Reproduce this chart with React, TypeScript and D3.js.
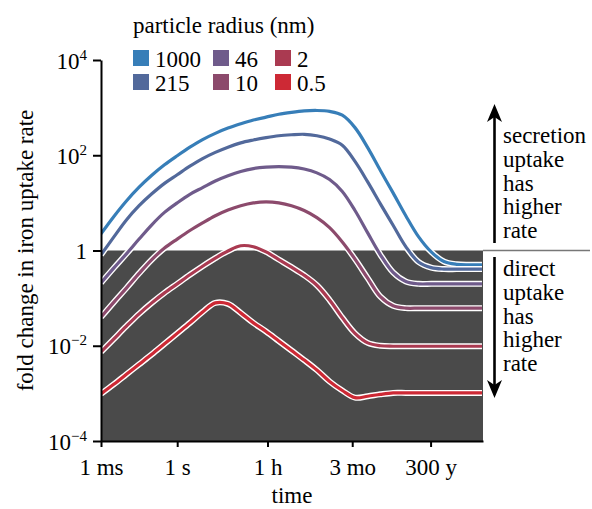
import React, { useEffect, useRef } from "react";
import * as d3 from "d3";

// time grid as log10(seconds), half-decade steps from 1 ms to ~30,000 y
const timeExp = d3.range(-3, 12.01, 0.5);

// log10 of fold change, one array per particle radius (31 points each)
const r1000 = [0.35, 0.71, 1.04, 1.33, 1.58, 1.8, 1.99, 2.17, 2.33, 2.46, 2.57, 2.66, 2.74, 2.8, 2.86, 2.9, 2.93, 2.94, 2.92, 2.84, 2.58, 2.16, 1.68, 1.21, 0.73, 0.29, -0.03, -0.23, -0.29, -0.3, -0.3];
const r215 = [-0.09, 0.28, 0.64, 0.94, 1.19, 1.41, 1.59, 1.77, 1.93, 2.06, 2.17, 2.26, 2.32, 2.37, 2.41, 2.43, 2.44, 2.41, 2.34, 2.21, 1.87, 1.44, 0.98, 0.53, 0.08, -0.24, -0.36, -0.39, -0.39, -0.39, -0.39];
const r46 = [-0.68, -0.37, -0.07, 0.24, 0.54, 0.8, 1.0, 1.18, 1.32, 1.46, 1.57, 1.66, 1.72, 1.75, 1.76, 1.75, 1.71, 1.63, 1.49, 1.24, 0.84, 0.37, -0.09, -0.46, -0.65, -0.7, -0.7, -0.7, -0.7, -0.7, -0.7];
const r10 = [-1.4, -1.09, -0.79, -0.48, -0.19, 0.05, 0.24, 0.42, 0.58, 0.73, 0.85, 0.94, 1.0, 1.02, 1.0, 0.94, 0.84, 0.69, 0.48, 0.18, -0.18, -0.58, -0.97, -1.16, -1.21, -1.21, -1.21, -1.21, -1.21, -1.21, -1.21];
const r2 = [-2.13, -1.86, -1.59, -1.33, -1.1, -0.89, -0.7, -0.51, -0.33, -0.16, -0.01, 0.1, 0.08, -0.03, -0.19, -0.35, -0.52, -0.73, -1.04, -1.41, -1.74, -1.94, -2.0, -2.01, -2.01, -2.01, -2.01, -2.01, -2.01, -2.01, -2.01];
const r05 = [-3.01, -2.81, -2.6, -2.39, -2.18, -1.96, -1.74, -1.52, -1.29, -1.1, -1.12, -1.31, -1.52, -1.7, -1.9, -2.1, -2.3, -2.51, -2.75, -2.94, -3.09, -3.06, -3.02, -2.99, -2.99, -2.99, -2.99, -2.99, -2.99, -2.99, -2.99];

const radii = ["1000", "215", "46", "10", "2", "0.5"];
const seriesValues = [r1000, r215, r46, r10, r2, r05];
const colors = ["#377eb8", "#52699b", "#6f5b8b", "#8c4a6c", "#aa3a51", "#cd2935"];

// x ticks in seconds
const xTickValues = [1e-3, 1, 3600, 90 * 86400, 300 * 365.25 * 86400];
const xTickLabels = ["1 ms", "1 s", "1 h", "3 mo", "300 y"];
const yTickValues = [1e-4, 1e-2, 1, 1e2, 1e4];

const secretionText = ["secretion", "uptake", "has", "higher", "rate"];
const directText = ["direct", "uptake", "has", "higher", "rate"];

const FONT = "'Liberation Serif', 'Times New Roman', serif";

export default function App() {
  const ref = useRef(null);

  useEffect(() => {
    const el = ref.current;
    if (!el) return;
    const svg = d3.select(el);
    svg.selectAll("*").remove();

    const x = d3.scaleLog().domain([1e-3, 10 ** 12.04]).range([101, 483]);
    const y = d3.scaleLog().domain([1e-4, 1e4]).range([441, 60]);

    // shaded "direct uptake" region
    svg
      .append("rect")
      .attr("x", x(1e-3))
      .attr("y", y(1))
      .attr("width", x.range()[1] - x(1e-3))
      .attr("height", y(1e-4) - y(1))
      .attr("fill", "#4a4a4a");

    svg
      .append("line")
      .attr("x1", x.range()[1])
      .attr("x2", 590)
      .attr("y1", y(1))
      .attr("y2", y(1))
      .attr("stroke", "#777")
      .attr("stroke-width", 1.5);

    svg
      .append("clipPath")
      .attr("id", "plotclip")
      .append("rect")
      .attr("x", x.range()[0])
      .attr("y", 0)
      .attr("width", x.range()[1] - x.range()[0])
      .attr("height", y(1e-4));

    const line = d3
      .line()
      .x(d => x(d[0]))
      .y(d => y(d[1]))
      .curve(d3.curveCatmullRom.alpha(0.5));

    const lines = svg.append("g").attr("clip-path", "url(#plotclip)");
    seriesValues.forEach((vals, i) => {
      const pts = vals.map((v, j) => [10 ** timeExp[j], 10 ** v]);
      lines
        .append("path")
        .attr("d", line(pts))
        .attr("fill", "none")
        .attr("stroke", "#fff")
        .attr("stroke-width", 6);
      lines
        .append("path")
        .attr("d", line(pts))
        .attr("fill", "none")
        .attr("stroke", colors[i])
        .attr("stroke-width", 3.2);
    });

    // axes
    const xAxis = svg
      .append("g")
      .attr("transform", "translate(0," + y(1e-4) + ")")
      .call(
        d3
          .axisBottom(x)
          .tickValues(xTickValues)
          .tickFormat((d, i) => xTickLabels[i])
          .tickSize(6)
          .tickSizeOuter(0)
          .tickPadding(12)
      );
    xAxis.selectAll("path, line").attr("stroke-width", 2);
    xAxis.selectAll("text").attr("font-size", 23).attr("font-family", FONT).attr("fill", "#000");

    const yAxis = svg
      .append("g")
      .attr("transform", "translate(" + x(1e-3) + ",0)")
      .call(d3.axisLeft(y).tickValues(yTickValues).tickSize(8).tickSizeOuter(0).tickPadding(6));
    yAxis.selectAll("path, line").attr("stroke-width", 2);
    yAxis
      .selectAll("text")
      .attr("font-size", 23)
      .attr("font-family", FONT)
      .attr("fill", "#000")
      .attr("dy", "0.35em")
      .each(function (d) {
        const t = d3.select(this);
        const e = Math.round(Math.log10(d));
        t.text(null);
        if (e === 0) {
          t.append("tspan").text("1");
        } else {
          t.append("tspan").text("10");
          t.append("tspan")
            .attr("dy", -9)
            .attr("font-size", 15)
            .text(e < 0 ? "\u2212" + -e : String(e));
        }
      });

    // axis titles
    svg
      .append("text")
      .attr("x", (x.range()[0] + x.range()[1]) / 2)
      .attr("y", 503)
      .attr("text-anchor", "middle")
      .attr("font-size", 23)
      .attr("font-family", FONT)
      .text("time");

    svg
      .append("text")
      .attr("transform", "translate(33," + y(1) + ") rotate(-90)")
      .attr("text-anchor", "middle")
      .attr("font-size", 23)
      .attr("font-family", FONT)
      .text("fold change in iron uptake rate");

    // legend
    const legend = svg.append("g").attr("font-family", FONT).attr("font-size", 23);
    legend.append("text").attr("x", 133).attr("y", 33).text("particle radius (nm)");
    const colX = [133, 213, 275];
    radii.forEach((r, i) => {
      const cx = colX[Math.floor(i / 2)];
      const cy = 50 + (i % 2) * 24;
      legend.append("rect").attr("x", cx).attr("y", cy).attr("width", 16).attr("height", 16).attr("fill", colors[i]);
      legend
        .append("text")
        .attr("x", cx + 22)
        .attr("y", cy + 16.5)
        .text(r);
    });

    // annotation arrows
    const ax = 494.5;
    svg.append("line").attr("x1", ax).attr("x2", ax).attr("y1", 243).attr("y2", 116).attr("stroke", "#000").attr("stroke-width", 2.6);
    svg
      .append("path")
      .attr("d", `M${ax},104 L${ax + 7.5},122 L${ax},117 L${ax - 7.5},122 Z`)
      .attr("fill", "#000");
    svg.append("line").attr("x1", ax).attr("x2", ax).attr("y1", 257).attr("y2", 386).attr("stroke", "#000").attr("stroke-width", 2.6);
    svg
      .append("path")
      .attr("d", `M${ax},398 L${ax + 7.5},380 L${ax},385 L${ax - 7.5},380 Z`)
      .attr("fill", "#000");

    const ann = svg.append("g").attr("font-family", FONT).attr("font-size", 23);
    secretionText.forEach((s, i) => {
      ann.append("text").attr("x", 503).attr("y", 143 + i * 23.8).text(s);
    });
    directText.forEach((s, i) => {
      ann.append("text").attr("x", 503).attr("y", 276 + i * 23.8).text(s);
    });

    return () => {
      svg.selectAll("*").remove();
    };
  }, []);

  return (
    <svg
      ref={ref}
      width={592}
      height={509}
      style={{ position: "absolute", left: 0, top: 0, background: "#fff" }}
    />
  );
}
